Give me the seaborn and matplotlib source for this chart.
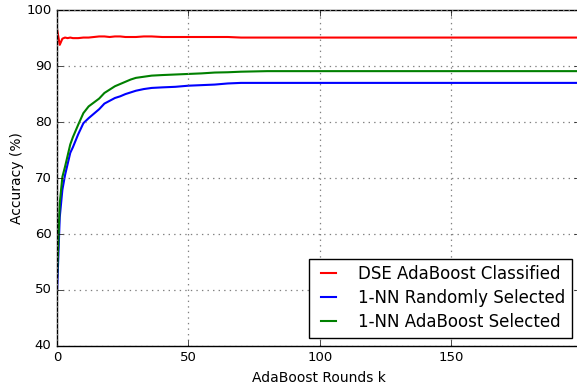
import pandas as pd
import seaborn as sns
import matplotlib
matplotlib.use("Agg")
import matplotlib.pyplot as plt

# values (AdaBoost round -> accuracy %)
rounds = [0, 1, 2, 3, 4, 5, 6, 8, 10, 12, 14, 16, 18, 20, 22, 24, 26, 28, 30,
          33, 36, 40, 45, 50, 55, 60, 65, 70, 75, 80, 90, 100, 120, 140, 160, 180, 199]

dse_adaboost = [96.5, 93.8, 94.9, 95.1, 95.0, 95.1, 95.0, 95.0, 95.1, 95.1, 95.2, 95.3, 95.3,
                95.2, 95.3, 95.3, 95.2, 95.2, 95.2, 95.3, 95.3, 95.2, 95.2, 95.2, 95.2, 95.2,
                95.2, 95.1, 95.1, 95.1, 95.1, 95.1, 95.1, 95.1, 95.1, 95.1, 95.1]

nn_random = [50.0, 63.0, 67.9, 70.5, 72.5, 74.5, 75.5, 77.8, 79.8, 80.7, 81.5, 82.3, 83.3,
             83.8, 84.3, 84.6, 85.0, 85.3, 85.6, 85.9, 86.1, 86.2, 86.3, 86.5, 86.6, 86.7,
             86.9, 87.0, 87.0, 87.0, 87.0, 87.0, 87.0, 87.0, 87.0, 87.0, 87.0]

nn_adaboost = [52.5, 65.5, 70.2, 72.0, 74.0, 76.0, 77.3, 79.5, 81.6, 82.8, 83.5, 84.2, 85.2,
               85.8, 86.4, 86.8, 87.2, 87.6, 87.9, 88.1, 88.3, 88.4, 88.5, 88.6, 88.7, 88.85,
               88.9, 89.0, 89.05, 89.1, 89.1, 89.1, 89.1, 89.1, 89.1, 89.1, 89.1]

labels = ["DSE AdaBoost Classified", "1-NN Randomly Selected", "1-NN AdaBoost Selected"]
colors = ["#ff0000", "#0000ff", "#008000"]

# long-form table for seaborn
df = pd.concat([
    pd.DataFrame({"k": rounds, "acc": dse_adaboost, "method": labels[0]}),
    pd.DataFrame({"k": rounds, "acc": nn_random, "method": labels[1]}),
    pd.DataFrame({"k": rounds, "acc": nn_adaboost, "method": labels[2]}),
])

plt.style.use("classic")
plt.rcParams["font.family"] = ["DejaVu Sans"]

fig = plt.figure(figsize=(5.77, 3.90), dpi=100, facecolor="white")
# right edge of the axes runs just past the image edge, as in the reference
ax = fig.add_axes([0.099, 0.113, 0.906, 0.861])

sns.lineplot(data=df, x="k", y="acc", hue="method", palette=colors,
             hue_order=labels, linewidth=1.5, ax=ax, estimator=None)

ax.set_xlim(0, 199)
ax.set_ylim(40, 100)
ax.set_xticks([0, 50, 100, 150])
ax.set_yticks(range(40, 101, 10))
ax.tick_params(labelsize=9.5)
ax.grid(True, linestyle=":", color="0.5", linewidth=0.9)
ax.set_xlabel("AdaBoost Rounds k", fontsize=10)
ax.set_ylabel("Accuracy (%)", fontsize=10, labelpad=2)

leg = ax.legend(loc="lower right", fontsize=12, fancybox=False, handlelength=1.5,
                borderpad=0.4, labelspacing=0.35, handletextpad=1.0)
leg.get_frame().set_edgecolor("black")

fig.savefig("out.png", dpi=100, facecolor="white")
